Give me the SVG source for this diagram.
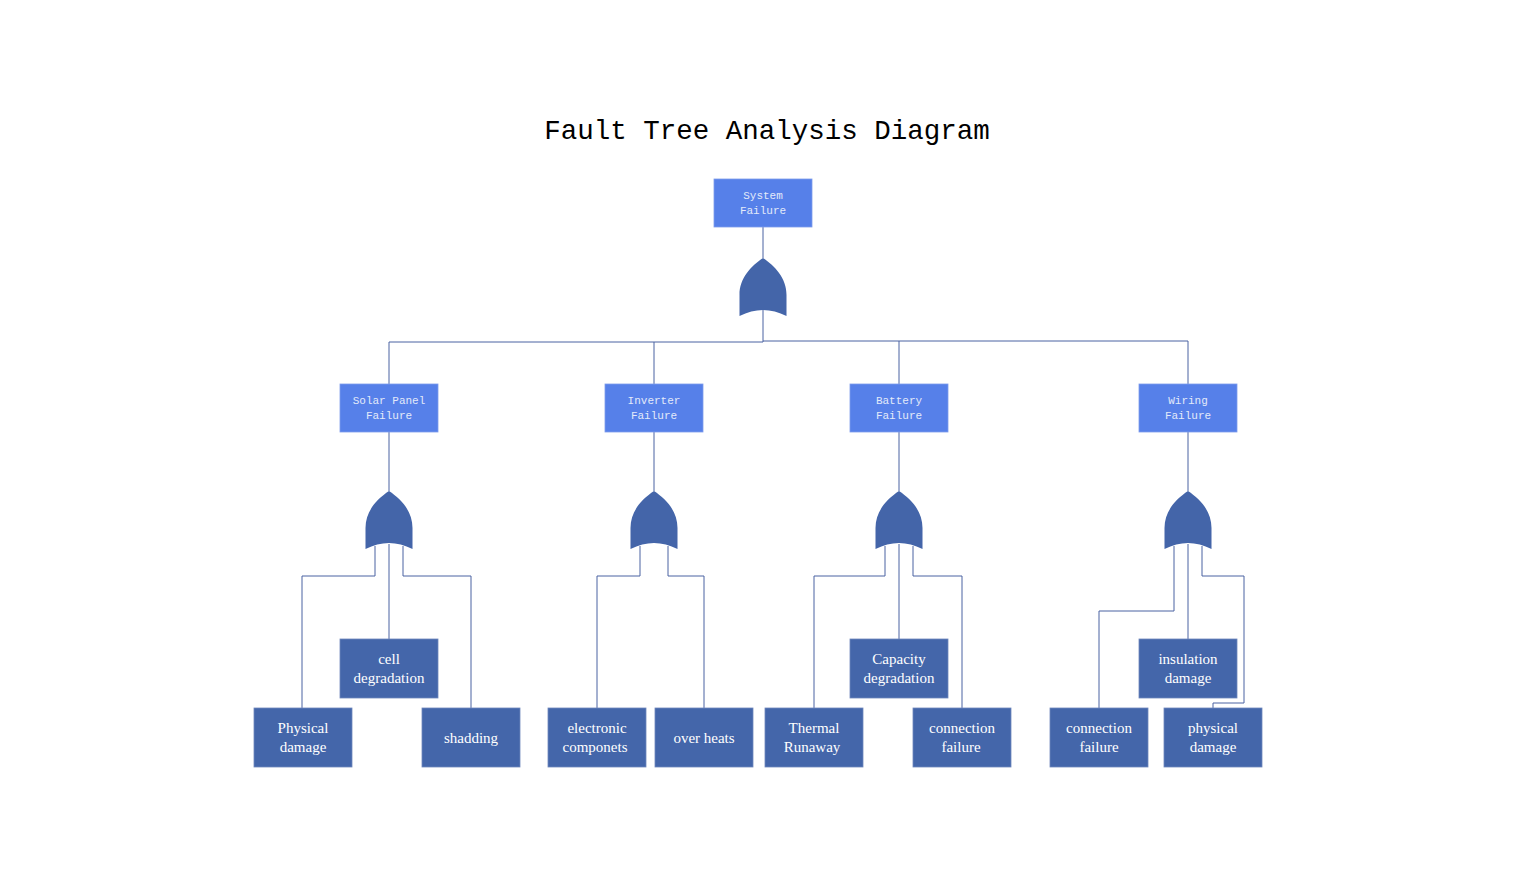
<svg xmlns="http://www.w3.org/2000/svg" width="1516" height="872" viewBox="0 0 1516 872">
<style>
.bg{fill:#ffffff}
.title{font-family:"Liberation Mono","DejaVu Sans Mono",monospace;font-size:27.5px;fill:#000}
.lt{fill:#5680E9;stroke:#7E9CEC;stroke-width:0.8}
.dk{fill:#4466AA;stroke:#6F87BC;stroke-width:0.8}
.lt-t{font-family:"Liberation Mono","DejaVu Sans Mono",monospace;font-size:11px;fill:#E3EAF9;text-anchor:middle}
.dk-t{font-family:"Liberation Serif","DejaVu Serif",serif;font-size:15px;fill:#ffffff;text-anchor:middle}
.gate{fill:#4465A9}
.c{fill:none;stroke:#4A62A2;stroke-width:1}
</style>
<defs>
<path id="orgate" d="M0,0 C12,8 23.5,20 23.5,37 L23.5,58 Q0,46 -23.5,58 L-23.5,37 C-23.5,20 -12,8 0,0 Z"/>
</defs>
<rect class="bg" x="0" y="0" width="1516" height="872"/>
<text class="title" x="767" y="139" text-anchor="middle">Fault Tree Analysis Diagram</text>

<g id="connectors">
<path class="c" d="M763,227 V258"/>
<path class="c" d="M763,310 V342 H389 V384"/>
<path class="c" d="M763,341 H1188 V384"/>
<path class="c" d="M654,342 V384"/>
<path class="c" d="M899,341 V384"/>
<path class="c" d="M389,432 V491"/>
<path class="c" d="M654,432 V491"/>
<path class="c" d="M899,432 V491"/>
<path class="c" d="M1188,432 V491"/>
<path class="c" d="M375,546 V576 H302 V708"/>
<path class="c" d="M389,544 V639"/>
<path class="c" d="M403,546 V576 H471 V708"/>
<path class="c" d="M640,546 V576 H597 V708"/>
<path class="c" d="M668,546 V576 H704 V708"/>
<path class="c" d="M885,546 V576 H814 V708"/>
<path class="c" d="M899,544 V639"/>
<path class="c" d="M913,546 V576 H962 V708"/>
<path class="c" d="M1174,546 V611 H1099 V708"/>
<path class="c" d="M1188,544 V639"/>
<path class="c" d="M1202,546 V576 H1244 V703 H1213 V708"/>
</g>

<g id="gate-top"><use href="#orgate" class="gate" x="763" y="258"/></g>
<g id="gate-solar"><use href="#orgate" class="gate" x="389" y="491"/></g>
<g id="gate-inverter"><use href="#orgate" class="gate" x="654" y="491"/></g>
<g id="gate-battery"><use href="#orgate" class="gate" x="899" y="491"/></g>
<g id="gate-wiring"><use href="#orgate" class="gate" x="1188" y="491"/></g>

<g id="system-failure"><rect class="lt" x="714" y="179" width="98" height="48"/>
<text class="lt-t" x="763" y="199">System</text><text class="lt-t" x="763" y="214">Failure</text></g>

<g id="solar-panel-failure"><rect class="lt" x="340" y="384" width="98" height="48"/>
<text class="lt-t" x="389" y="404">Solar Panel</text><text class="lt-t" x="389" y="419">Failure</text></g>
<g id="inverter-failure"><rect class="lt" x="605" y="384" width="98" height="48"/>
<text class="lt-t" x="654" y="404">Inverter</text><text class="lt-t" x="654" y="419">Failure</text></g>
<g id="battery-failure"><rect class="lt" x="850" y="384" width="98" height="48"/>
<text class="lt-t" x="899" y="404">Battery</text><text class="lt-t" x="899" y="419">Failure</text></g>
<g id="wiring-failure"><rect class="lt" x="1139" y="384" width="98" height="48"/>
<text class="lt-t" x="1188" y="404">Wiring</text><text class="lt-t" x="1188" y="419">Failure</text></g>

<g id="physical-damage-1"><rect class="dk" x="254" y="708" width="98" height="59"/>
<text class="dk-t" x="303" y="733">Physical</text><text class="dk-t" x="303" y="752">damage</text></g>
<g id="cell-degradation"><rect class="dk" x="340" y="639" width="98" height="59"/>
<text class="dk-t" x="389" y="664">cell</text><text class="dk-t" x="389" y="683">degradation</text></g>
<g id="shadding"><rect class="dk" x="422" y="708" width="98" height="59"/>
<text class="dk-t" x="471" y="743">shadding</text></g>

<g id="electronic-componets"><rect class="dk" x="548" y="708" width="98" height="59"/>
<text class="dk-t" x="597" y="733">electronic</text><text class="dk-t" x="595" y="752">componets</text></g>
<g id="over-heats"><rect class="dk" x="655" y="708" width="98" height="59"/>
<text class="dk-t" x="704" y="743">over heats</text></g>

<g id="thermal-runaway"><rect class="dk" x="765" y="708" width="98" height="59"/>
<text class="dk-t" x="814" y="733">Thermal</text><text class="dk-t" x="812" y="752">Runaway</text></g>
<g id="capacity-degradation"><rect class="dk" x="850" y="639" width="98" height="59"/>
<text class="dk-t" x="899" y="664">Capacity</text><text class="dk-t" x="899" y="683">degradation</text></g>
<g id="connection-failure-1"><rect class="dk" x="913" y="708" width="98" height="59"/>
<text class="dk-t" x="962" y="733">connection</text><text class="dk-t" x="961" y="752">failure</text></g>

<g id="connection-failure-2"><rect class="dk" x="1050" y="708" width="98" height="59"/>
<text class="dk-t" x="1099" y="733">connection</text><text class="dk-t" x="1099" y="752">failure</text></g>
<g id="insulation-damage"><rect class="dk" x="1139" y="639" width="98" height="59"/>
<text class="dk-t" x="1188" y="664">insulation</text><text class="dk-t" x="1188" y="683">damage</text></g>
<g id="physical-damage-2"><rect class="dk" x="1164" y="708" width="98" height="59"/>
<text class="dk-t" x="1213" y="733">physical</text><text class="dk-t" x="1213" y="752">damage</text></g>
</svg>
